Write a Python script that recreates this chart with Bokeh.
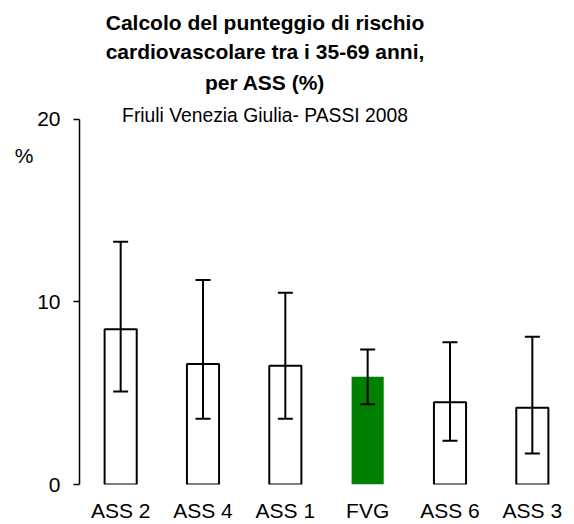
from bokeh.plotting import figure
from bokeh.models import (FactorRange, Range1d, ColumnDataSource, Whisker, TeeHead,
                          FixedTicker, LinearAxis)
from bokeh.core.properties import value
from bokeh.embed import file_html
from bokeh.resources import INLINE

categories = ["ASS 2", "ASS 4", "ASS 1", "FVG", "ASS 6", "ASS 3"]
values = [8.5, 6.6, 6.5, 5.9, 4.5, 4.2]
lower = [5.1, 3.6, 3.6, 4.4, 2.4, 1.7]
upper = [13.3, 11.2, 10.5, 7.4, 7.8, 8.1]
fills = ["white", "white", "white", "#008000", "white", "white"]
outlines = ["black", "black", "black", None, "black", "black"]
y_ticks = [0, 10, 20]

title_lines = ["Calcolo del punteggio di rischio",
               "cardiovascolare tra i 35-69 anni,",
               "per ASS (%)"]
subtitle = "Friuli Venezia Giulia- PASSI 2008"
unit_label = "%"
FONT = "Liberation Sans"

src = ColumnDataSource(dict(cat=categories, val=values, lo=lower, hi=upper,
                            fill=fills, line=outlines))

p = figure(x_range=FactorRange(*categories, range_padding=0),
           y_range=Range1d(0, 26.52),
           width=574, height=524, output_backend="svg", toolbar_location=None,
           min_border_left=79, min_border_right=1, min_border_top=0,
           min_border_bottom=0)
p.outline_line_color = None
p.xgrid.visible = False
p.ygrid.visible = False

p.vbar(x="cat", top="val", width=0.39, source=src, fill_color="fill",
       line_color="line", line_width=2)

w = Whisker(base="cat", upper="hi", lower="lo", source=src, line_color="black",
            line_width=2, level="overlay",
            upper_head=TeeHead(size=15, line_color="black", line_width=2),
            lower_head=TeeHead(size=15, line_color="black", line_width=2))
p.add_layout(w)

p.yaxis.ticker = FixedTicker(ticks=y_ticks)
p.yaxis.bounds = (0, 20)
p.yaxis.minor_tick_line_color = None
p.yaxis.major_tick_in = 0
p.yaxis.major_tick_out = 6
p.yaxis.axis_line_color = "black"
p.yaxis.axis_line_width = 1.5
p.yaxis.major_tick_line_width = 1.5
p.yaxis.major_label_text_font = FONT
p.yaxis.major_label_text_font_size = "21px"
p.yaxis.major_label_text_color = "black"
p.yaxis.major_label_standoff = 13

# outer axis carrying only the "%" unit label
ua = LinearAxis(ticker=FixedTicker(ticks=[18.0]),
                major_label_overrides={18.0: unit_label},
                axis_line_color=None, major_tick_line_color=None,
                minor_tick_line_color=None, major_tick_out=0, major_tick_in=0,
                major_label_standoff=1, major_label_text_font=FONT,
                major_label_text_font_size="21px", major_label_text_color="black")
p.add_layout(ua, "left")

p.xaxis.axis_line_color = None
p.xaxis.major_tick_line_color = None
p.xaxis.minor_tick_line_color = None
p.xaxis.major_label_text_font = FONT
p.xaxis.major_label_text_font_size = "21px"
p.xaxis.major_label_text_color = "black"
p.xaxis.major_label_standoff = 8

tcx = 2.253
tsrc = ColumnDataSource(dict(x=[tcx] * 3, y=[25.3, 23.75, 22.0], t=title_lines))
p.text(x="x", y="y", text="t", source=tsrc, text_font=value(FONT),
       text_font_size="21px", text_font_style="bold", text_align="center",
       text_baseline="middle", text_color="black")
ssrc = ColumnDataSource(dict(x=[tcx], y=[20.2], t=[subtitle]))
p.text(x="x", y="y", text="t", source=ssrc, text_font=value(FONT),
       text_font_size="19.3px", text_align="center",
       text_baseline="middle", text_color="black")

open("out.html", "w").write(file_html(p, INLINE))
